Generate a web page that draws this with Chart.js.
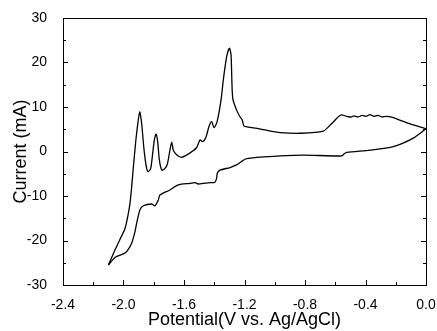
<!DOCTYPE html>
<html>
<head>
<meta charset="utf-8">
<script src="https://cdn.jsdelivr.net/npm/chart.js@4.4.1/dist/chart.umd.min.js"></script>
<style>
    html, body { margin: 0; padding: 0; background: #fff; }
    #wrap { width: 437px; height: 331px; position: relative; }
</style>
</head>
<body>
<div id="wrap"><canvas id="cvChart"></canvas></div>
<script>
// Varredura catódica (0 -> -2.1 V)
const potentialCathodic = [0.0, -0.084, -0.216, -0.370, -0.524, -0.542, -0.557, -0.811, -0.965, -1.185, -1.252, -1.296, -1.362,
    -1.380, -1.384, -1.395, -1.428, -1.472, -1.505, -1.527, -1.560, -1.638, -1.693, -1.759, -1.770, -1.792, -1.814, -1.869,
    -1.891, -1.913, -1.924, -1.946, -1.979, -2.001, -2.056, -2.100];
const currentCathodic = [5.1, 3.0, 1.1, 0.3, -0.2, -0.55, -1.0, -0.8, -1.0, -1.6, -3.0, -3.6, -4.2,
    -4.9, -6.0, -6.9, -7.0, -7.15, -7.3, -7.0, -7.15, -7.5, -8.65, -9.8, -10.9, -12.2, -11.8, -12.2,
    -13.1, -16.1, -18.0, -20.6, -22.5, -23.0, -23.8, -25.5];

// Varredura anódica (-2.1 -> 0 V)
const potentialAnodic = [-2.100, -2.056, -2.023, -1.990, -1.968, -1.957, -1.946, -1.935, -1.919, -1.906, -1.893, -1.880, -1.864,
    -1.847, -1.836, -1.820, -1.807, -1.796, -1.785, -1.774, -1.763, -1.747, -1.726, -1.710, -1.693, -1.681, -1.671, -1.660,
    -1.638, -1.615, -1.560, -1.516, -1.494, -1.476, -1.455, -1.435, -1.417, -1.402, -1.382, -1.355, -1.340, -1.318, -1.300,
    -1.289, -1.278, -1.252, -1.230, -1.215, -1.203, -1.175, -1.100, -1.030, -0.965, -0.833, -0.679, -0.623, -0.564, -0.524,
    -0.496, -0.476, -0.450, -0.423, -0.397, -0.370, -0.344, -0.317, -0.291, -0.264, -0.227, -0.106, 0.0];
const currentAnodic = [-25.5, -22.1, -19.7, -17.3, -13.9, -11.6, -7.9, -3.6, 2.3, 6.1, 8.9, 6.3, 0.3,
    -3.8, -4.5, -3.8, -0.4, 2.6, 3.9, 2.2, -1.9, -4.2, -3.8, -2.8, 0.3, 2.1, 0.3, -0.3,
    -1.0, -1.3, -0.3, 0.9, 2.6, 2.2, 3.2, 5.6, 6.7, 5.35, 6.6, 11.6, 16.1, 21.3, 23.2,
    21.7, 12.0, 9.3, 7.8, 7.1, 5.7, 5.5, 5.1, 4.6, 4.25, 4.1, 4.6, 6.3, 8.2, 7.9,
    7.75, 8.0, 7.75, 8.1, 7.9, 8.3, 7.9, 8.1, 7.75, 7.9, 7.7, 6.2, 5.1];

const xTickValues = [-2.4, -2.0, -1.6, -1.2, -0.8, -0.4, 0.0];
const yTickValues = [-30, -20, -10, 0, 10, 20, 30];

function toPoints(xs, ys) {
    return xs.map((x, i) => ({ x: x, y: ys[i] }));
}

// Moldura e marcas para dentro, no estilo do Origin
const framePlugin = {
    id: 'frame',
    afterDraw(chart) {
        const ctx = chart.ctx;
        const a = chart.chartArea;
        const xs = chart.scales.x;
        const ys = chart.scales.y;
        ctx.save();
        ctx.strokeStyle = '#000';
        ctx.lineWidth = 1;
        ctx.strokeRect(Math.round(a.left) + 0.5, Math.round(a.top) + 0.5,
            Math.round(a.right - a.left), Math.round(a.bottom - a.top));
        ctx.beginPath();
        for (let i = 0; i < xTickValues.length; i++) {
            const px = Math.round(xs.getPixelForValue(xTickValues[i])) + 0.5;
            ctx.moveTo(px, a.bottom);
            ctx.lineTo(px, a.bottom - 5);
            if (i < xTickValues.length - 1) {
                const mid = (xTickValues[i] + xTickValues[i + 1]) / 2;
                const pm = Math.round(xs.getPixelForValue(mid)) + 0.5;
                ctx.moveTo(pm, a.bottom);
                ctx.lineTo(pm, a.bottom - 3);
            }
        }
        for (let i = 0; i < yTickValues.length; i++) {
            const py = Math.round(ys.getPixelForValue(yTickValues[i])) + 0.5;
            ctx.moveTo(a.left, py);
            ctx.lineTo(a.left + 5, py);
            ctx.moveTo(a.right, py);
            ctx.lineTo(a.right - 5, py);
            if (i < yTickValues.length - 1) {
                const mid = (yTickValues[i] + yTickValues[i + 1]) / 2;
                const pm = Math.round(ys.getPixelForValue(mid)) + 0.5;
                ctx.moveTo(a.left, pm);
                ctx.lineTo(a.left + 3, pm);
                ctx.moveTo(a.right, pm);
                ctx.lineTo(a.right - 3, pm);
            }
        }
        ctx.stroke();
        ctx.restore();
    }
};

const lineStyle = {
    showLine: true,
    borderColor: '#000',
    borderWidth: 1.3,
    borderJoinStyle: 'round',
    pointRadius: 0,
    tension: 0.25,
    fill: false
};

new Chart(document.getElementById('cvChart'), {
    type: 'scatter',
    data: {
        datasets: [
            Object.assign({ label: 'catódica', data: toPoints(potentialCathodic, currentCathodic) }, lineStyle),
            Object.assign({ label: 'anódica', data: toPoints(potentialAnodic, currentAnodic) }, lineStyle)
        ]
    },
    options: {
        responsive: true,
        maintainAspectRatio: false,
        animation: false,
        layout: { padding: { top: 18, right: 11, left: 0, bottom: 0 } },
        plugins: { legend: { display: false }, tooltip: { enabled: false } },
        scales: {
            x: {
                type: 'linear',
                min: -2.4,
                max: 0.0,
                grid: { display: false },
                border: { display: false },
                afterBuildTicks: (scale) => { scale.ticks = xTickValues.map(v => ({ value: v })); },
                afterFit: (scale) => { scale.height = 46; scale.paddingLeft = 0; scale.paddingRight = 0; },
                ticks: {
                    color: '#000',
                    padding: 4,
                    maxRotation: 0,
                    font: { family: 'Liberation Sans, Arial', size: 14 },
                    callback: (v) => (Math.abs(v) < 1e-9 ? 0 : v).toFixed(1)
                },
                title: {
                    display: true,
                    text: 'Potential(V vs. Ag/AgCl)',
                    color: '#000',
                    padding: { top: 0, bottom: 0 },
                    font: { family: 'Liberation Sans, Arial', size: 18 }
                }
            },
            y: {
                type: 'linear',
                min: -30,
                max: 30,
                grid: { display: false },
                border: { display: false },
                afterBuildTicks: (scale) => { scale.ticks = yTickValues.map(v => ({ value: v })); },
                afterFit: (scale) => { scale.width = 63; },
                ticks: {
                    color: '#000',
                    padding: 8,
                    font: { family: 'Liberation Sans, Arial', size: 14 }
                },
                title: {
                    display: true,
                    text: 'Current (mA)',
                    color: '#000',
                    padding: { top: 10, bottom: 0 },
                    font: { family: 'Liberation Sans, Arial', size: 18 }
                }
            }
        }
    },
    plugins: [framePlugin]
});
</script>
</body>
</html>
